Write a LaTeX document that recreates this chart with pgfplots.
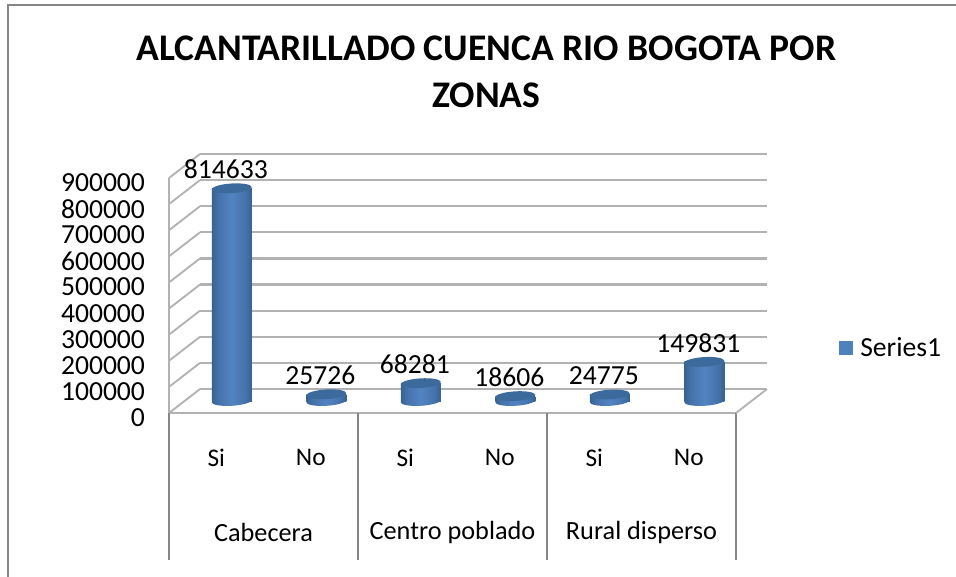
\documentclass[border=0pt]{standalone}
\usepackage{pgfplots}
\pgfplotsset{compat=1.18}
\usepackage{fontspec}
\setmainfont{Carlito}
\definecolor{cyldark}{HTML}{38628F}
\definecolor{cylmid}{HTML}{4672AB}
\definecolor{cyllight}{HTML}{5284C2}
\definecolor{cyltop}{HTML}{3D6A9C}
\definecolor{legblue}{HTML}{4F81BD}
\definecolor{gridc}{HTML}{B2B2B2}
\definecolor{framec}{HTML}{868686}
\pgfdeclarehorizontalshading{cyl}{100bp}{color(0bp)=(cyldark); color(25bp)=(cyldark); color(33bp)=(cylmid); color(50bp)=(cyllight); color(67bp)=(cylmid); color(75bp)=(cyldark); color(100bp)=(cyldark)}
\pgfdeclareplotmark{cylbase}{\pgfpathellipse{\pgfpointorigin}{\pgfqpoint{15pt}{0.9pt}}{\pgfqpoint{-0.2pt}{3.6pt}}\pgfshadepath{cyl}{0}\pgfusepath{discard}}
\pgfdeclareplotmark{cylcap}{\pgfpathellipse{\pgfpointorigin}{\pgfqpoint{15pt}{0.9pt}}{\pgfqpoint{-0.2pt}{3.6pt}}\pgfusepath{fill}}
\newcommand{\tickfont}{\fontsize{20.7}{24}\selectfont}
\newcommand{\catfont}{\fontsize{19}{22}\selectfont}
\newcommand{\grpfont}{\fontsize{19.7}{23}\selectfont}
\begin{document}
\begin{tikzpicture}
\path[use as bounding box] (0,0) rectangle (717pt,-432pt);
\draw[framec,line width=1.5pt] (6pt,-440pt) -- (6pt,-3.75pt) -- (730pt,-3.75pt);
\clip (0,0) rectangle (717pt,-432pt);
\node[font=\fontsize{28.2}{35}\selectfont\bfseries,align=center,anchor=center] at (364.8pt,-54pt) {ALCANTARILLADO CUENCA RIO BOGOTA POR\\ZONAS};
% back wall
\begin{axis}[at={(150pt,-291.75pt)},anchor=south west,scale only axis,width=425.25pt,height=176.25pt,
 xmin=0,xmax=6,ymin=0,ymax=900000,scaled y ticks=false,
 axis line style={draw=none},tick style={draw=none},xtick=\empty,
 ytick={0,100000,...,900000},yticklabels={},ymajorgrids,
 grid style={gridc,line width=1.6pt}]
\end{axis}
% front plane
\begin{axis}[at={(126.75pt,-309.75pt)},anchor=south west,scale only axis,width=425.25pt,height=176.25pt,
 clip=false,xmin=0,xmax=6,ymin=0,ymax=900000,
 axis x line=bottom,axis y line=left,axis line style={gridc,line width=1.6pt,-},
 xtick={0.5,1.5,2.5,3.5,4.5,5.5},xticklabels={Si,No,Si,No,Si,No},
 major tick length=0pt,
 xticklabel style={font=\catfont,anchor=center,yshift=-33.5pt},
 extra x ticks={0,2,4,6},extra x tick labels={},
 extra x tick style={major tick length=110pt,tick align=outside,tick style={framec,line width=1pt}},
 ytick={0,100000,...,900000},
 yticklabel style={font=\tickfont,anchor=east,xshift=-14.5pt,yshift=-3.5pt,
  /pgf/number format/.cd,fixed,1000 sep={},assume math mode=true},
 scaled y ticks=false]
\pgfplotsinvokeforeach{0,100000,200000,300000,400000,500000,600000,700000,800000,900000}{
 \draw[gridc,line width=1.4pt] (axis cs:0,#1) -- ++(23.25pt,18pt);}
\draw[gridc,line width=1.4pt] (axis cs:6,0) -- ++(23.25pt,18pt);
\node[font=\grpfont] at (axis cs:1,0) [yshift=-89.5pt] {Cabecera};
\node[font=\grpfont] at (axis cs:3,0) [yshift=-89.5pt] {Centro poblado};
\node[font=\grpfont] at (axis cs:5,0) [yshift=-89.5pt] {Rural disperso};
\end{axis}
% cylinders (mid plane)
\begin{axis}[at={(138.375pt,-300.75pt)},anchor=south west,scale only axis,width=425.25pt,height=176.25pt,
 clip=false,xmin=0,xmax=6,ymin=0,ymax=900000,hide axis,
 legend style={at={(1.1543,0.2255)},anchor=west,draw=none,fill=none,font=\tickfont,inner sep=0pt,outer sep=0pt},
 legend image code/.code={\pgfsetfillcolor{legblue}\pgfpathrectangle{\pgfqpoint{0pt}{-5.25pt}}{\pgfqpoint{10.5pt}{10.5pt}}\pgfusepath{fill}\pgfpathrectangle{\pgfqpoint{0pt}{-5.25pt}}{\pgfqpoint{14pt}{10.5pt}}\pgfusepath{use as bounding box}},
 legend cell align=left]
\addplot[only marks,mark=cylbase,forget plot] coordinates {(0.5,0)(1.5,0)(2.5,0)(3.5,0)(4.5,0)(5.5,0)};
\addplot[ybar,bar shift=0pt,bar width=30pt,draw=none,shading=cyl] coordinates {(0.5,814633)};
\addlegendentry{Series1}
\addplot[ybar,bar shift=0pt,bar width=30pt,draw=none,shading=cyl,forget plot] coordinates {(1.5,25726)};
\addplot[ybar,bar shift=0pt,bar width=30pt,draw=none,shading=cyl,forget plot] coordinates {(2.5,68281)};
\addplot[ybar,bar shift=0pt,bar width=30pt,draw=none,shading=cyl,forget plot] coordinates {(3.5,18606)};
\addplot[ybar,bar shift=0pt,bar width=30pt,draw=none,shading=cyl,forget plot] coordinates {(4.5,24775)};
\addplot[ybar,bar shift=0pt,bar width=30pt,draw=none,shading=cyl,forget plot] coordinates {(5.5,149831)};
\addplot[only marks,mark=cylcap,cyltop,forget plot] coordinates {(0.5,814633)(1.5,25726)(2.5,68281)(3.5,18606)(4.5,24775)(5.5,149831)};
\addplot[draw=none,forget plot,point meta=explicit symbolic,nodes near coords,
 nodes near coords style={font=\tickfont,anchor=center,xshift=-4.5pt,yshift=14.25pt,text=black}]
 coordinates {(0.5,814633)[814633] (1.5,25726)[25726] (2.5,68281)[68281] (3.5,18606)[18606] (4.5,24775)[24775] (5.5,149831)[149831]};
\end{axis}
\end{tikzpicture}
\end{document}
